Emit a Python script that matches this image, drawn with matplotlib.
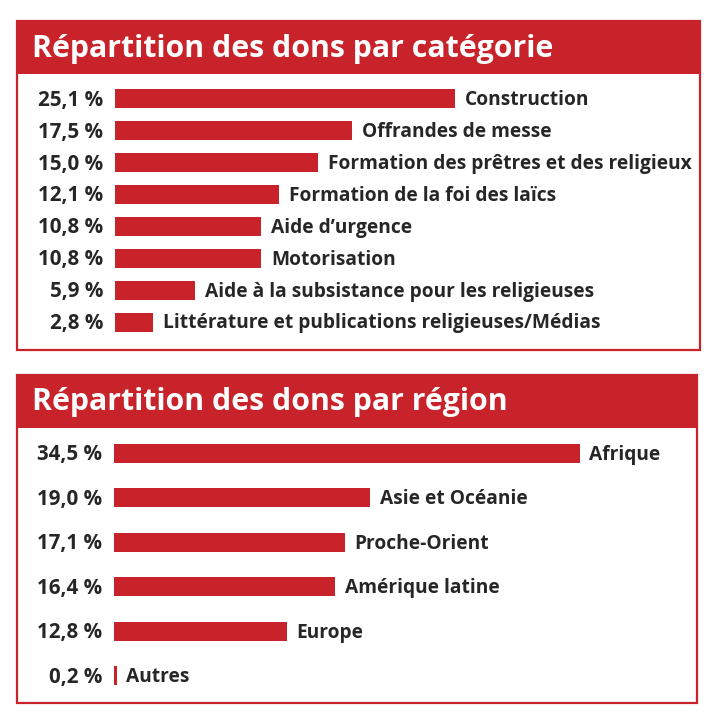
import matplotlib
matplotlib.use("Agg")
import matplotlib.pyplot as plt
from matplotlib.patches import Rectangle

# data
cat_labels = ["Construction", "Offrandes de messe", "Formation des prêtres et des religieux",
              "Formation de la foi des laïcs", "Aide d\u2019urgence", "Motorisation",
              "Aide à la subsistance pour les religieuses",
              "Littérature et publications religieuses/Médias"]
cat_values = [25.1, 17.5, 15.0, 12.1, 10.8, 10.8, 5.9, 2.8]

reg_labels = ["Afrique", "Asie et Océanie", "Proche-Orient", "Amérique latine", "Europe", "Autres"]
reg_values = [34.5, 19.0, 17.1, 16.4, 12.8, 0.2]

titles = ["Répartition des dons par catégorie", "Répartition des dons par région"]

RED = "#c8232b"
TXT = "#262626"
W, H = 718, 722
plt.rcParams["font.family"] = ["Open Sans", "DejaVu Sans"]

fig = plt.figure(figsize=(W / 100, H / 100), dpi=100)


def px_axes(x0, y0, x1, y1):
    # pixel box (top-left origin) -> figure axes
    return fig.add_axes([x0 / W, 1 - y1 / H, (x1 - x0) / W, (y1 - y0) / H])


def panel(box, head_h, title):
    x0, y0, x1, y1 = box
    fig.patches.append(Rectangle((x0 / W, 1 - y1 / H), (x1 - x0) / W, (y1 - y0) / H,
                                 transform=fig.transFigure, fill=False,
                                 edgecolor=RED, linewidth=1.6))
    fig.patches.append(Rectangle((x0 / W, 1 - (y0 + head_h) / H), (x1 - x0) / W, head_h / H,
                                 transform=fig.transFigure, facecolor=RED, edgecolor="none"))
    fig.text((x0 + 15) / W, 1 - (y0 + head_h / 2 + 1) / H, title, color="white",
             fontsize=21.8, fontweight="bold", va="center", ha="left")


def bars(ax, labels, values, height):
    n = len(values)
    ax.barh(range(n), values, height=height, color=RED)
    ax.set_xlim(0, 43.2)
    ax.set_ylim(n - 0.5, -0.5)
    ax.axis("off")
    for i, (lab, v) in enumerate(zip(labels, values)):
        ax.annotate(f"{v:.1f} %".replace(".", ","), (0, i), xytext=(-8.5, -1),
                    textcoords="offset points", ha="right", va="center",
                    fontsize=14.8, fontweight="bold", color=TXT)
        ax.annotate(lab, (v, i), xytext=(7, -1), textcoords="offset points",
                    ha="left", va="center", fontsize=13.8, fontweight="bold", color=TXT)


panel((17, 21, 700, 350), 53, titles[0])
panel((17, 375, 697, 703), 53, titles[1])

ax1 = px_axes(115, 83, 700, 338)
bars(ax1, cat_labels, cat_values, 0.6)

ax2 = px_axes(114, 431, 697, 698)
bars(ax2, reg_labels, reg_values, 0.43)

fig.savefig("out.png", dpi=100)
